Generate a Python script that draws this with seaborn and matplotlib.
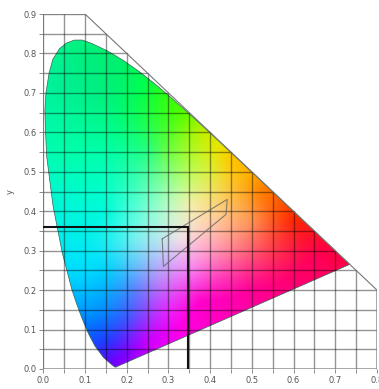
import numpy as np
import pandas as pd
import seaborn as sns
import matplotlib
matplotlib.use("Agg")
import matplotlib.pyplot as plt
from matplotlib.patches import Polygon

# spectral locus
locus_x = [0.1741, 0.1733, 0.1714, 0.1689, 0.1644, 0.1566, 0.1440, 0.1241, 0.1096, 0.1000, 0.0913, 0.0800,
           0.0687, 0.0454, 0.0235, 0.0082, 0.0055, 0.0039, 0.0063, 0.0139, 0.0228, 0.0389, 0.0550, 0.0743, 0.0930, 0.1142, 0.1547,
           0.1929, 0.2296, 0.2658, 0.3016, 0.3373, 0.3731, 0.4087, 0.4441, 0.4788, 0.5125,
           0.5448, 0.5752, 0.6029, 0.6270, 0.6658, 0.6915, 0.7079, 0.7190, 0.7260, 0.7347]
locus_y = [0.0050, 0.0048, 0.0051, 0.0069, 0.0109, 0.0177, 0.0297, 0.0578, 0.0868, 0.1100, 0.1327, 0.1650,
           0.2007, 0.2950, 0.4127, 0.5384, 0.6000, 0.6548, 0.7000, 0.7502, 0.7850, 0.8120, 0.8260, 0.8338, 0.8340, 0.8262, 0.8059,
           0.7816, 0.7543, 0.7243, 0.6923, 0.6589, 0.6245, 0.5896, 0.5547, 0.5202, 0.4866,
           0.4544, 0.4242, 0.3965, 0.3725, 0.3340, 0.3083, 0.2920, 0.2809, 0.2740, 0.2653]

# colours at chromaticity points
swatch_x = [0.08, 0.05, 0.08, 0.10, 0.13, 0.15, 0.17, 0.25, 0.33, 0.38, 0.50, 0.65, 0.72,
            0.60, 0.52, 0.45, 0.38, 0.33, 0.24, 0.33, 0.22, 0.22, 0.30, 0.35, 0.42, 0.45,
            0.35, 0.28, 0.22, 0.30, 0.20, 0.15, 0.15, 0.15, 0.15, 0.25, 0.30, 0.40, 0.50, 0.55, 0.42,
            0.03, 0.02, 0.18, 0.05, 0.42, 0.50, 0.28, 0.68]
swatch_y = [0.80, 0.55, 0.35, 0.25, 0.15, 0.07, 0.02, 0.07, 0.11, 0.17, 0.20, 0.28, 0.27,
            0.38, 0.45, 0.53, 0.60, 0.65, 0.72, 0.33, 0.33, 0.42, 0.45, 0.42, 0.38, 0.30,
            0.25, 0.22, 0.20, 0.15, 0.13, 0.25, 0.40, 0.55, 0.70, 0.55, 0.55, 0.50, 0.38, 0.30, 0.22,
            0.72, 0.50, 0.78, 0.25, 0.57, 0.49, 0.69, 0.30]
swatch_r = [0, 0, 0, 0, 0, 30, 110, 200, 255, 255, 255, 255, 255,
            255, 255, 255, 190, 80, 0, 240, 120, 80, 160, 240, 255, 255,
            245, 190, 90, 230, 60, 0, 0, 0, 0, 40, 110, 220, 255, 255, 255,
            0, 0, 0, 0, 230, 255, 40, 255]
swatch_g = [240, 255, 240, 220, 150, 60, 0, 0, 0, 0, 0, 0, 0,
            40, 130, 200, 240, 255, 255, 225, 240, 255, 255, 240, 200, 130,
            130, 130, 130, 40, 90, 210, 250, 255, 240, 255, 255, 240, 150, 60, 50,
            240, 250, 240, 220, 230, 170, 255, 0]
swatch_b = [130, 170, 230, 255, 255, 255, 255, 255, 230, 200, 150, 90, 70,
            0, 0, 0, 0, 0, 80, 230, 240, 210, 170, 170, 150, 150,
            245, 250, 255, 255, 255, 255, 220, 170, 125, 130, 70, 60, 80, 80, 190,
            150, 190, 110, 255, 0, 0, 30, 70]

frame_x = [0.0, 0.0, 0.1, 0.8, 0.8, 0.0]
frame_y = [0.0, 0.9, 0.9, 0.2, 0.0, 0.0]

box_x = [0.285, 0.441, 0.438, 0.288, 0.285]
box_y = [0.330, 0.430, 0.392, 0.260, 0.330]

cross_x = [0.0, 0.347, 0.347]
cross_y = [0.361, 0.361, 0.0]

grid_x = [0.0, 0.05, 0.1, 0.15, 0.2, 0.25, 0.3, 0.35, 0.4, 0.45, 0.5, 0.55, 0.6, 0.65, 0.7, 0.75, 0.8]
grid_y = [0.0, 0.05, 0.1, 0.15, 0.2, 0.25, 0.3, 0.35, 0.4, 0.45, 0.5, 0.55, 0.6, 0.65, 0.7, 0.75, 0.8, 0.85, 0.9]
x_labels = ["0.0", "0.1", "0.2", "0.3", "0.4", "0.5", "0.6", "0.7", "0.8"]
y_labels = ["0.0", "0.1", "0.2", "0.3", "0.4", "0.5", "0.6", "0.7", "0.8", "0.9"]

W, H = 379, 389


def colour_field(gx, gy):
    # radial blend through the sampled swatches
    px = np.column_stack([swatch_x, swatch_y])
    colours = np.column_stack([swatch_r, swatch_g, swatch_b]) / 255
    kernel = np.linalg.norm(px[:, None] - px[None, :], axis=2)
    weights = np.linalg.solve(kernel, colours)
    dist = np.sqrt((gx[..., None] - px[:, 0]) ** 2 + (gy[..., None] - px[:, 1]) ** 2)
    return np.clip(dist @ weights, 0, 1)


sns.set_style("white")
fig = plt.figure(figsize=(W / 100, H / 100), dpi=100)
ax = fig.add_axes([43.3 / W, 1 - 369 / H, (377 - 43.3) / W, (369 - 14) / H])

gx, gy = np.meshgrid(np.linspace(0, 0.8, 300), np.linspace(0, 0.9, 300))
img = ax.imshow(colour_field(gx, gy), origin="lower", extent=(0, 0.8, 0, 0.9), aspect="auto",
                interpolation="bilinear", zorder=1)
img.set_clip_path(Polygon(np.column_stack([locus_x, locus_y]), closed=True, transform=ax.transData))

locus = pd.DataFrame({"x": locus_x + locus_x[:1], "y": locus_y + locus_y[:1], "o": range(len(locus_x) + 1)})
sns.lineplot(data=locus, x="x", y="y", sort=False, estimator=None, color="#336655", lw=0.5, ax=ax, zorder=2)

# grid stops at the x + y = 1 edge
for v in grid_x:
    ax.plot([v, v], [0, min(0.9, 1 - v)], color="black", alpha=0.42, lw=1.0, zorder=3)
for v in grid_y:
    ax.plot([0, min(0.8, 1 - v)], [v, v], color="black", alpha=0.42, lw=1.0, zorder=3)
ax.plot(frame_x, frame_y, color="#777777", lw=0.8, zorder=3)
ax.plot(box_x, box_y, color="#666666", alpha=0.8, lw=0.8, zorder=4)
ax.plot(cross_x, cross_y, color="#111111", lw=1.5, solid_joinstyle="miter", zorder=5)

ax.set_xlim(0, 0.8)
ax.set_ylim(0, 0.9)
ax.set_xticks(grid_x[::2], x_labels)
ax.set_yticks(grid_y[::2], y_labels)
ax.set_xticks(grid_x, minor=True)
ax.set_yticks(grid_y, minor=True)
ax.tick_params(which="both", bottom=True, left=True, length=3, width=0.6, color="#777777",
               labelsize=6, labelcolor="#555555", pad=2)
ax.set_xlabel("")
ax.set_ylabel("y", fontsize=6, color="#555555", labelpad=6)
sns.despine(ax=ax, top=True, right=True, left=True, bottom=True)

fig.savefig("out.png", dpi=100)
